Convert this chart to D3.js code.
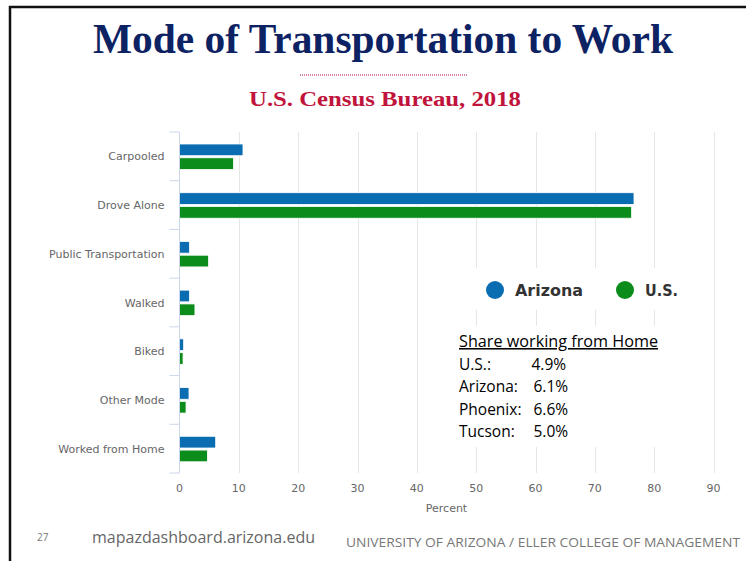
<!DOCTYPE html>
<html>
<head>
<meta charset="utf-8">
<script src="https://cdn.jsdelivr.net/npm/d3@7"></script>
<style>
  body { margin: 0; background: #fff; }
  svg { display: block; }
</style>
</head>
<body>
<div id="chart"></div>
<script>
// values (percent of workers)
var categories = ['Carpooled', 'Drove Alone', 'Public Transportation', 'Walked', 'Biked', 'Other Mode', 'Worked from Home'];
var seriesNames = ['Arizona', 'U.S.'];
var arizona = [10.7, 76.6, 1.7, 1.7, 0.7, 1.6, 6.1];
var us = [9.1, 76.2, 4.9, 2.6, 0.6, 1.1, 4.7];
var xTicks = [0, 10, 20, 30, 40, 50, 60, 70, 80, 90];
var homeLabels = ['U.S.:', 'Arizona:', 'Phoenix:', 'Tucson:'];
var homeValues = ['4.9%', '6.1%', '6.6%', '5.0%'];

var W = 746, H = 561;
var colors = { 'Arizona': '#0b6db1', 'U.S.': '#0b8c1b' };

var svg = d3.select('#chart').append('svg')
    .attr('width', W)
    .attr('height', H);

// slide frame
svg.append('path')
    .attr('d', 'M10,' + H + ' L10,7 L' + W + ',7')
    .attr('fill', 'none')
    .attr('stroke', '#111')
    .attr('stroke-width', 2.5);

// titles
svg.append('text')
    .attr('x', 383)
    .attr('y', 53)
    .attr('text-anchor', 'middle')
    .attr('font-family', 'Liberation Serif, Times New Roman, serif')
    .attr('font-weight', 'bold')
    .attr('font-size', 42)
    .attr('fill', '#0d2263')
    .attr('textLength', 580)
    .attr('lengthAdjust', 'spacingAndGlyphs')
    .text('Mode of Transportation to Work');

svg.append('line')
    .attr('x1', 300).attr('x2', 468)
    .attr('y1', 75).attr('y2', 75)
    .attr('stroke', '#b8103a')
    .attr('stroke-width', 1)
    .attr('stroke-dasharray', '1,1');

svg.append('text')
    .attr('x', 385)
    .attr('y', 106)
    .attr('text-anchor', 'middle')
    .attr('font-family', 'Liberation Serif, Times New Roman, serif')
    .attr('font-weight', 'bold')
    .attr('font-size', 22)
    .attr('fill', '#c0143c')
    .attr('textLength', 272)
    .attr('lengthAdjust', 'spacingAndGlyphs')
    .text('U.S. Census Bureau, 2018');

// chart
var x = d3.scaleLinear().domain([0, 90]).range([179.5, 713.5]);
var y = d3.scaleBand().domain(categories).range([132, 473]);
var sub = d3.scaleBand().domain(seriesNames).range([12, 37.5]).paddingInner(0.15);

var rows = categories.map(function(c, i) {
    return { cat: c, values: [
        { name: 'Arizona', v: arizona[i] },
        { name: 'U.S.', v: us[i] }
    ] };
});

var axisFont = 'DejaVu Sans, Verdana, sans-serif';

// grid lines
svg.append('g')
    .selectAll('line')
    .data(xTicks.filter(function(d) { return d > 0; }))
    .join('line')
    .attr('x1', function(d) { return Math.round(x(d)) + 0.5; })
    .attr('x2', function(d) { return Math.round(x(d)) + 0.5; })
    .attr('y1', 132)
    .attr('y2', 473)
    .attr('stroke', '#e6e6e6');

// bars
svg.append('g')
    .selectAll('g')
    .data(rows)
    .join('g')
    .attr('transform', function(d) { return 'translate(0,' + y(d.cat) + ')'; })
    .selectAll('rect')
    .data(function(d) { return d.values; })
    .join('rect')
    .attr('x', x(0))
    .attr('y', function(d) { return sub(d.name); })
    .attr('width', function(d) { return x(d.v) - x(0); })
    .attr('height', sub.bandwidth())
    .attr('fill', function(d) { return colors[d.name]; })
    .attr('stroke', '#fff')
    .attr('stroke-width', 0.8);

// y axis
var yAxis = svg.append('g')
    .attr('transform', 'translate(' + x(0) + ',0)');
yAxis.append('line')
    .attr('x1', 0).attr('x2', 0)
    .attr('y1', 132).attr('y2', 473)
    .attr('stroke', '#ccd6eb');
yAxis.selectAll('line.tick')
    .data(categories.map(function(c) { return y(c); }).concat([473]))
    .join('line')
    .attr('class', 'tick')
    .attr('x1', -10).attr('x2', 0)
    .attr('y1', function(d) { return d; })
    .attr('y2', function(d) { return d; })
    .attr('stroke', '#ccd6eb');
yAxis.selectAll('text')
    .data(categories)
    .join('text')
    .attr('x', -15)
    .attr('y', function(d) { return y(d) + y.bandwidth() / 2 + 4; })
    .attr('text-anchor', 'end')
    .attr('font-family', axisFont)
    .attr('font-size', 11)
    .attr('fill', '#666')
    .text(function(d) { return d; });

// x axis labels
svg.append('g')
    .selectAll('text')
    .data(xTicks)
    .join('text')
    .attr('x', function(d) { return x(d); })
    .attr('y', 492)
    .attr('text-anchor', 'middle')
    .attr('font-family', axisFont)
    .attr('font-size', 11)
    .attr('fill', '#666')
    .text(function(d) { return d; });

svg.append('text')
    .attr('x', (x(0) + x(90)) / 2)
    .attr('y', 512)
    .attr('text-anchor', 'middle')
    .attr('font-family', axisFont)
    .attr('font-size', 11)
    .attr('fill', '#666')
    .text('Percent');

// legend
svg.append('rect')
    .attr('x', 475).attr('y', 268)
    .attr('width', 222).attr('height', 42)
    .attr('fill', '#fff');
var legendX = [495, 625];
var legendW = [68, 33];
var legend = svg.append('g')
    .selectAll('g')
    .data(seriesNames)
    .join('g')
    .attr('transform', function(d, i) { return 'translate(' + legendX[i] + ',290)'; });
legend.append('circle')
    .attr('r', 9)
    .attr('fill', function(d) { return colors[d]; });
legend.append('text')
    .attr('x', 20)
    .attr('y', 6)
    .attr('font-family', axisFont)
    .attr('font-weight', 'bold')
    .attr('font-size', 16.5)
    .attr('fill', '#333')
    .attr('textLength', function(d, i) { return legendW[i]; })
    .attr('lengthAdjust', 'spacingAndGlyphs')
    .text(function(d) { return d; });

// text box about working from home
svg.append('rect')
    .attr('x', 446).attr('y', 326)
    .attr('width', 246).attr('height', 121)
    .attr('fill', '#fff');
var noteFont = 'Open Sans, Noto Sans, sans-serif';
svg.append('text')
    .attr('x', 459)
    .attr('y', 347)
    .attr('font-family', noteFont)
    .attr('font-size', 15.5)
    .attr('fill', '#000')
    .attr('text-decoration', 'underline')
    .attr('textLength', 199)
    .attr('lengthAdjust', 'spacingAndGlyphs')
    .text('Share working from Home');
var note = svg.append('g')
    .selectAll('g')
    .data(homeLabels)
    .join('g')
    .attr('transform', function(d, i) { return 'translate(0,' + (370 + i * 22.3) + ')'; });
note.append('text')
    .attr('x', 459)
    .attr('font-family', noteFont)
    .attr('font-size', 15.5)
    .attr('fill', '#000')
    .text(function(d) { return d; });
note.append('text')
    .attr('x', function(d, i) { return i === 0 ? 531.5 : 533.5; })
    .attr('font-family', noteFont)
    .attr('font-size', 15.5)
    .attr('fill', '#000')
    .text(function(d, i) { return homeValues[i]; });

// footer
svg.append('text')
    .attr('x', 37).attr('y', 541)
    .attr('font-family', noteFont)
    .attr('font-size', 10)
    .attr('fill', '#777')
    .text('27');
svg.append('text')
    .attr('x', 92).attr('y', 543)
    .attr('font-family', noteFont)
    .attr('font-size', 16)
    .attr('fill', '#666')
    .attr('textLength', 223)
    .attr('lengthAdjust', 'spacingAndGlyphs')
    .text('mapazdashboard.arizona.edu');
svg.append('text')
    .attr('x', 346).attr('y', 547)
    .attr('font-family', noteFont)
    .attr('font-size', 12.5)
    .attr('fill', '#777')
    .attr('textLength', 394)
    .attr('lengthAdjust', 'spacingAndGlyphs')
    .text('UNIVERSITY OF ARIZONA / ELLER COLLEGE OF MANAGEMENT');
</script>
</body>
</html>
